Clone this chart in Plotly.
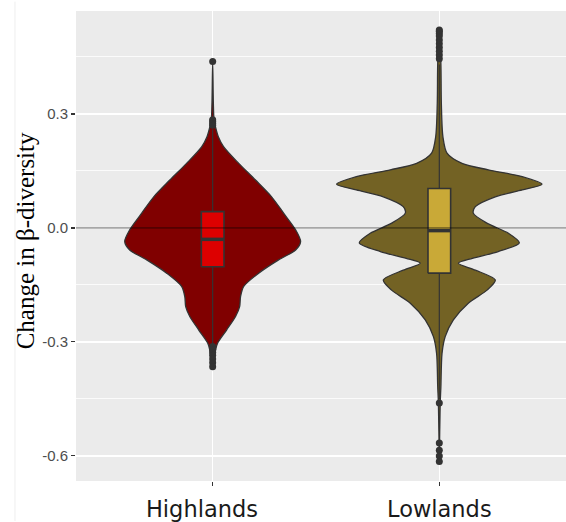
import plotly.graph_objects as go

# ---------------- data ----------------
categories = ["Highlands\u00a0\u00a0\u00a0", "Lowlands"]
cat_pos = [0, 1]

# violin outlines: y levels and half-widths (category units)
hl_y = [0.438, 0.33, 0.285, 0.267, 0.240, 0.214, 0.170, 0.126, 0.082, 0.039, -0.005,
        -0.036, -0.058, -0.084, -0.119, -0.154, -0.181, -0.207, -0.233, -0.268,
        -0.303, -0.321, -0.365]
hl_hw = [0.0, 0.003, 0.006, 0.012, 0.025, 0.048, 0.115, 0.189, 0.260, 0.313, 0.366,
         0.388, 0.366, 0.291, 0.203, 0.137, 0.123, 0.119, 0.101, 0.062,
         0.022, 0.013, 0.0]

ll_y = [0.521, 0.433, 0.328, 0.240, 0.197, 0.170, 0.153, 0.135, 0.115, 0.100, 0.082,
        0.056, 0.039, 0.012, -0.014, -0.039, -0.062, -0.080, -0.093, -0.111, -0.137,
        -0.163, -0.198, -0.242, -0.286, -0.330, -0.418, -0.461, -0.615]
ll_hw = [0.0, 0.007, 0.009, 0.016, 0.034, 0.100, 0.216, 0.366, 0.453, 0.366, 0.247,
         0.159, 0.150, 0.212, 0.305, 0.353, 0.260, 0.146, 0.084, 0.159, 0.247,
         0.212, 0.128, 0.062, 0.026, 0.012, 0.007, 0.004, 0.0]

# box statistics: [lower whisker, q1, median, q3, upper whisker]
hl_box = [-0.305, -0.102, -0.030, 0.043, 0.260]
ll_box = [-0.450, -0.119, -0.007, 0.104, 0.430]

hl_out = [0.438, 0.285, 0.280, 0.275, 0.270, -0.312, -0.320, -0.328, -0.335, -0.345,
          -0.355, -0.365]
ll_out = [0.445, 0.455, 0.465, 0.475, 0.485, 0.495, 0.505, 0.512, 0.518, 0.521,
          -0.461, -0.566, -0.585, -0.600, -0.615]

y_ticks = [-0.6, -0.3, 0.0, 0.3]
y_ticktext = ["-0.6", "-0.3", "0.0", "0.3"]
y_minor = [-0.45, -0.15, 0.15, 0.45]

violin_fill = ["#800000", "#736224"]
box_fill = ["#DD0000", "#C9A937"]
ink = "#333333"

fig = go.Figure()

series = [
    (hl_y, hl_hw, hl_box, hl_out),
    (ll_y, ll_hw, ll_box, ll_out),
]

for i, (ys, hws, bx, outs) in enumerate(series):
    c = cat_pos[i]
    xs = [c - w for w in hws] + [c + w for w in reversed(hws)]
    yy = list(ys) + list(reversed(ys))
    fig.add_trace(go.Scatter(
        x=xs, y=yy, mode="lines", fill="toself", fillcolor=violin_fill[i],
        line=dict(color=ink, width=1.3, shape="spline", smoothing=0.8),
        hoverinfo="skip", showlegend=False))

for i, (ys, hws, bx, outs) in enumerate(series):
    c = cat_pos[i]
    lo, q1, med, q3, hi = bx
    bw = 0.05
    fig.add_trace(go.Scatter(x=[c, c, None, c, c], y=[lo, q1, None, q3, hi],
                             mode="lines", line=dict(color=ink, width=1.2),
                             hoverinfo="skip", showlegend=False))
    fig.add_trace(go.Scatter(
        x=[c - bw, c + bw, c + bw, c - bw, c - bw], y=[q1, q1, q3, q3, q1],
        mode="lines", fill="toself", fillcolor=box_fill[i],
        line=dict(color=ink, width=1.6), hoverinfo="skip", showlegend=False))
    fig.add_trace(go.Scatter(x=[c - bw, c + bw], y=[med, med], mode="lines",
                             line=dict(color=ink, width=3.5),
                             hoverinfo="skip", showlegend=False))
    fig.add_trace(go.Scatter(x=[c] * len(outs), y=outs, mode="markers",
                             marker=dict(color=ink, size=7),
                             hoverinfo="skip", showlegend=False))

fig.add_shape(type="line", xref="paper", x0=0, x1=1, yref="y", y0=0, y1=0,
              line=dict(color="rgba(0,0,0,0.62)", width=1), layer="above")

fig.add_shape(type="line", xref="paper", x0=-0.1245, x1=-0.1245, yref="paper",
              y0=-0.085, y1=1.02, line=dict(color="#EEEEEE", width=1), layer="below")

fig.add_annotation(text="Change in β-diversity", textangle=-90,
                   xref="paper", yref="paper", x=-0.104, y=0.51,
                   xanchor="center", yanchor="middle", showarrow=False,
                   font=dict(family="Liberation Serif, Times New Roman, serif",
                             size=25, color="#000000"))

fig.update_layout(
    width=566, height=522,
    margin=dict(l=76, r=0, t=11, b=41),
    paper_bgcolor="white", plot_bgcolor="#EBEBEB",
    showlegend=False,
    xaxis=dict(range=[-0.603, 1.559], tickvals=cat_pos, ticktext=categories,
               showgrid=True, gridcolor="white", gridwidth=1.6, zeroline=False,
               ticks="outside", ticklen=4, tickcolor=ink, tickwidth=1.1,
               ticklabelstandoff=4,
               tickfont=dict(family="DejaVu Sans, sans-serif", size=22.5, color="#1A1A1A"),
               showline=False, fixedrange=True),
    yaxis=dict(range=[-0.666, 0.571], tickvals=y_ticks, ticktext=y_ticktext,
               showgrid=True, gridcolor="white", gridwidth=1.6, zeroline=False,
               ticks="outside", ticklen=4, tickcolor=ink, tickwidth=1.1,
               tickfont=dict(family="Liberation Sans, sans-serif",
                             size=15, color="#4D4D4D"),
               minor=dict(tickvals=y_minor, showgrid=True, gridcolor="white",
                          gridwidth=0.8, ticklen=0),
               showline=False, fixedrange=True),
)

fig.write_html(
    "out.html",
    config={"displayModeBar": False, "staticPlot": True},
    post_script=("document.documentElement.style.overflow='hidden';"
                 "document.body.style.margin='0px';"
                 "document.body.style.overflow='hidden';"),
)
